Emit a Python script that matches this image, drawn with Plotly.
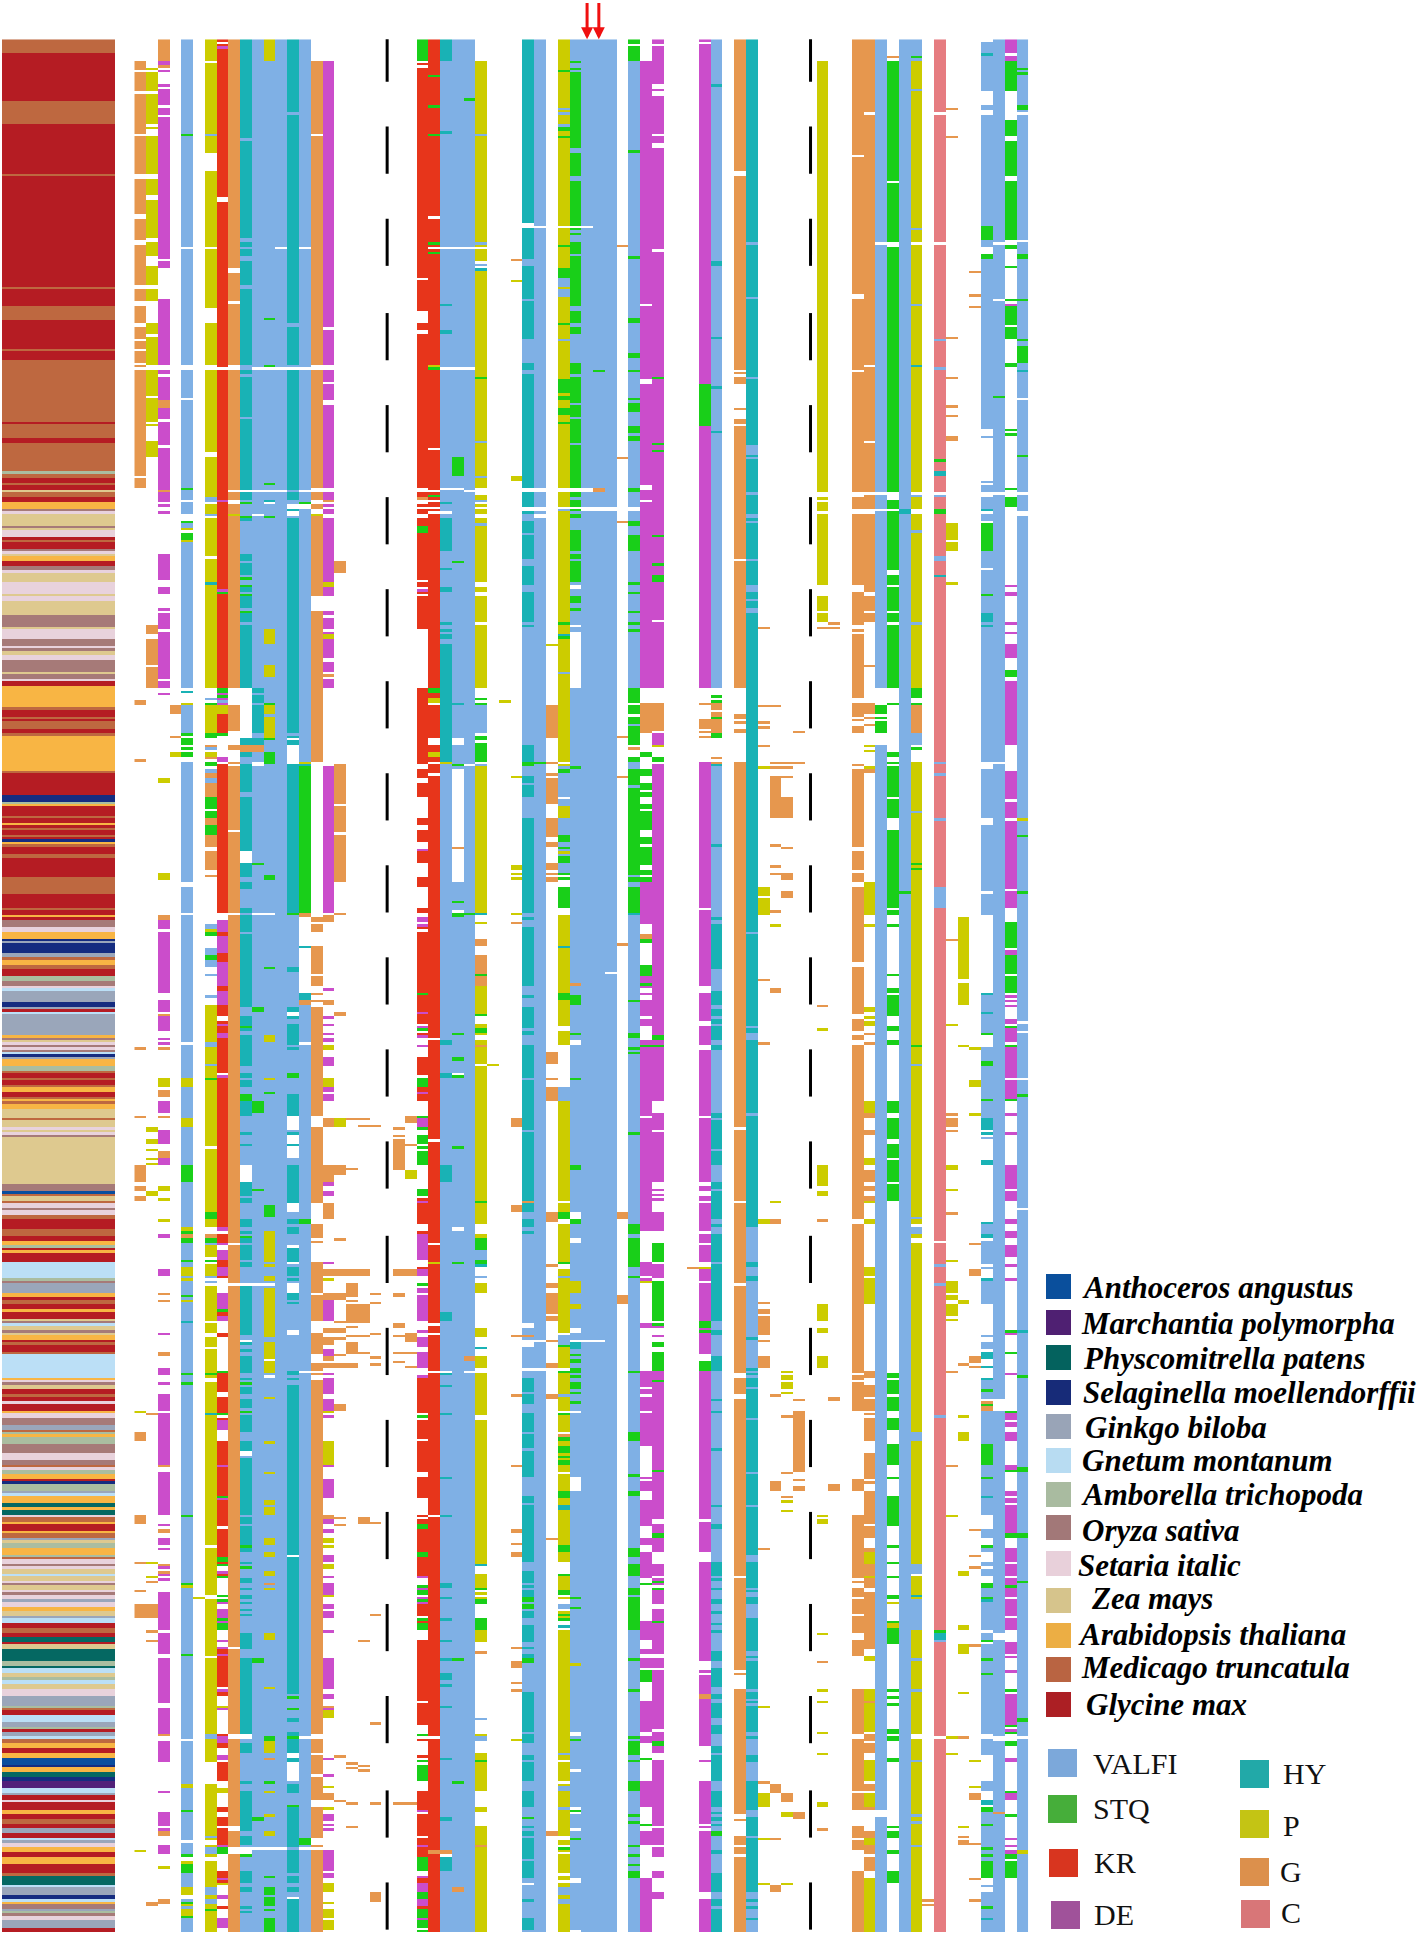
import numpy as np
import plotly.graph_objects as go

FIG_W, FIG_H = 1418, 1935
N_ROWS, N_COLS = 802, 76

# residue classes, in column order of the legend
residue_codes = ["V", "S", "K", "D", "H", "P", "G", "C"]
residue_colors = ["#7FB0E5", "#19CF19", "#E7351B", "#CB4DCB", "#19B2B5", "#CCCC00", "#E6974E", "#E67C80"]

# species strip down the left side: one letter per run, with the row each run ends on
species_colors = {
    "a": "#0A4E9E", "m": "#512079", "p": "#056862", "s": "#152C80", "k": "#9AA6BA", "n": "#BBDFF6", "b": "#AABDA0",
    "o": "#A67A78", "e": "#E8D2DC", "z": "#DEC98F", "t": "#F8B544", "d": "#BE6840", "g": "#B51C23",
}
strip_runs = [
    ("d", 6), ("g", 26), ("d", 36), ("g", 57), ("d", 58), ("g", 105), ("d", 106), ("g", 113), ("d", 119), ("g", 131),
    ("d", 132), ("g", 136), ("d", 162), ("g", 163), ("d", 169), ("g", 171), ("d", 183), ("b", 184), ("d", 186),
    ("g", 188), ("d", 189), ("g", 191), ("z", 192), ("d", 194), ("g", 196), ("t", 199), ("o", 200), ("e", 201),
    ("z", 206), ("o", 207), ("z", 208), ("e", 211), ("g", 212), ("d", 213), ("g", 216), ("o", 217), ("e", 218),
    ("z", 219), ("t", 221), ("g", 223), ("o", 225), ("e", 226), ("z", 230), ("e", 235), ("z", 236), ("e", 238),
    ("z", 244), ("o", 249), ("z", 250), ("e", 254), ("o", 257), ("e", 258), ("o", 259), ("z", 261), ("e", 263),
    ("o", 268), ("z", 269), ("o", 271), ("e", 272), ("g", 274), ("t", 283), ("d", 284), ("g", 287), ("d", 288),
    ("g", 289), ("d", 292), ("g", 294), ("d", 295), ("t", 310), ("d", 311), ("g", 320), ("s", 323), ("b", 324),
    ("t", 325), ("g", 329), ("d", 330), ("g", 332), ("t", 333), ("g", 334), ("d", 335), ("g", 337), ("d", 338),
    ("g", 339), ("s", 340), ("t", 341), ("d", 342), ("g", 345), ("d", 347), ("g", 355), ("d", 362), ("g", 368),
    ("d", 369), ("g", 371), ("t", 372), ("g", 373), ("o", 376), ("e", 378), ("t", 381), ("s", 382), ("k", 383),
    ("s", 387), ("k", 389), ("d", 390), ("t", 392), ("d", 394), ("g", 397), ("b", 399), ("o", 401), ("e", 402),
    ("n", 403), ("k", 408), ("s", 410), ("k", 411), ("g", 412), ("n", 413), ("k", 422), ("t", 423), ("o", 424),
    ("z", 425), ("e", 426), ("o", 427), ("e", 428), ("o", 429), ("n", 430), ("s", 431), ("k", 432), ("t", 435),
    ("b", 437), ("d", 438), ("g", 440), ("d", 441), ("g", 443), ("d", 444), ("t", 446), ("g", 448), ("d", 449),
    ("t", 450), ("d", 451), ("t", 453), ("z", 457), ("d", 458), ("z", 461), ("e", 462), ("z", 463), ("e", 464),
    ("o", 465), ("z", 485), ("o", 488), ("a", 489), ("d", 490), ("z", 492), ("d", 493), ("e", 495), ("o", 496),
    ("e", 498), ("d", 500), ("g", 504), ("d", 507), ("g", 509), ("t", 511), ("b", 512), ("g", 513), ("t", 514),
    ("g", 518), ("n", 525), ("b", 526), ("o", 527), ("k", 531), ("t", 533), ("g", 534), ("d", 536), ("g", 538),
    ("t", 539), ("g", 542), ("z", 543), ("o", 544), ("n", 545), ("z", 547), ("o", 548), ("z", 549), ("t", 551),
    ("g", 552), ("d", 553), ("g", 556), ("d", 557), ("n", 567), ("t", 568), ("e", 569), ("o", 570), ("z", 572),
    ("g", 574), ("d", 575), ("g", 577), ("e", 578), ("g", 581), ("t", 582), ("e", 584), ("o", 587), ("k", 589),
    ("d", 590), ("b", 591), ("t", 592), ("b", 595), ("o", 599), ("e", 602), ("o", 604), ("d", 605), ("e", 606),
    ("b", 608), ("t", 610), ("g", 611), ("s", 612), ("b", 615), ("k", 616), ("n", 617), ("t", 620), ("p", 622),
    ("t", 623), ("p", 625), ("e", 626), ("d", 628), ("t", 629), ("g", 632), ("t", 633), ("d", 635), ("k", 636),
    ("z", 637), ("b", 639), ("t", 642), ("b", 643), ("d", 644), ("e", 646), ("o", 647), ("e", 648), ("z", 650),
    ("n", 651), ("z", 653), ("e", 654), ("o", 655), ("z", 657), ("e", 658), ("o", 659), ("e", 661), ("k", 662),
    ("e", 664), ("t", 666), ("z", 668), ("k", 669), ("n", 671), ("g", 673), ("d", 675), ("g", 677), ("p", 679),
    ("g", 680), ("z", 682), ("p", 687), ("b", 689), ("p", 690), ("n", 692), ("z", 694), ("b", 695), ("n", 697),
    ("z", 699), ("e", 702), ("k", 706), ("b", 707), ("d", 708), ("g", 710), ("n", 713), ("k", 715), ("b", 716),
    ("g", 717), ("k", 719), ("n", 720), ("d", 722), ("t", 724), ("g", 726), ("t", 728), ("a", 731), ("s", 732),
    ("t", 734), ("p", 736), ("s", 738), ("m", 741), ("n", 743), ("k", 744), ("g", 746), ("e", 747), ("g", 750),
    ("t", 752), ("g", 754), ("d", 756), ("g", 758), ("k", 760), ("g", 762), ("n", 763), ("k", 764), ("e", 766),
    ("t", 768), ("g", 770), ("t", 773), ("g", 777), ("d", 778), ("p", 782), ("n", 783), ("k", 786), ("s", 788),
    ("n", 789), ("t", 790), ("o", 792), ("k", 793), ("b", 794), ("o", 795), ("e", 797), ("k", 800), ("g", 802),
]

# alignment columns: a residue code, then start/end row pairs. Later entries paint over earlier ones, "-" is a gap.
col_00 = ["G", 9, 13, 14, 22, 23, 40, 41, 57, 59, 74, 76, 85, 87, 104, 106, 111, 113, 120, 122, 127, 128, 131, 132, 137,
          138, 139, 140, 185, 186, 190, 280, 282, 305, 306, 427, 428, 456, 457, 477, 484, 486, 488, 490, 492, 590, 594,
          625, 629, 645, 646, 657, 658, 663, 669, "P", 581, 582, 767, 768]
col_01 = ["P", 12, 13, 14, 22, 23, 36, 37, 38, 41, 57, 59, 66, 68, 84, 86, 92, 96, 104, 106, 111, 120, 125, 126, 138, 140,
          151, 152, 162, 163, 164, 170, 177, 461, 463, 466, 468, 470, 471, 474, 475, 476, 477, 488, 490, 645, 646, 651,
          652, "G", 248, 252, 254, 265, 266, 275, 582, 583, 653, 654, 663, 669, 674, 675, 678, 679, 789, 791]
col_02 = ["D", 9, 11, 13, 14, 19, 20, 21, 28, 29, 32, 33, 93, 94, 97, 110, 138, 140, 142, 143, 153, 156, 161, 162, 172, 173,
          191, 192, 196, 197, 198, 200, 201, 218, 229, 232, 235, 241, 242, 243, 250, 251, 271, 272, 275, 277, 278, 373,
          377, 378, 404, 407, 412, 414, 420, 423, 424, 425, 426, 450, 455, 462, 468, 474, 477, 506, 508, 521, 524, 548,
          549, 563, 566, 569, 570, 574, 581, 582, 604, 607, 625, 629, 630, 635, 638, 639, 640, 647, 648, 650, 651, 652, 653,
          658, 674, 675, 684, 686, 705, 707, 718, 721, 730, 742, 743, 751, 757, 758, 759, 765, 769,
          "G", 0, 9, 11, 12, 153, 156, 191, 192, 371, 373, 413, 414, 427, 428, 445, 448, 456, 457, 471, 474, 531, 532, 534,
          535, 556, 558, 604, 605, 631, 633, 646, 647, 649, 650, 718, 719, 759, 761, 788, 790,
          "P", 313, 315, 353, 356, 440, 444, 486, 488, 491, 492, 500, 501, 774, 775]
col_03 = ["G", 282, 286, 295, 296, "P", 302, 304]
col_04 = ["V", 0, 88, 89, 138, 140, 152, 153, 195, 196, 201, 204, 208, 209, 275, 282, 294, 306, 357, 359, 370, 371, 425, 426,
          720, 721, 739, 741, 763, 764, 769, 777, 783, 788, 802,
          "S", 40, 41, 190, 191, 204, 205, 209, 212, 294, 295, 296, 299, 300, 301, 302, 304, 505, 506, 508, 510, 517, 518,
          477, 484, 532, 533, 565, 566, 569, 570, 625, 626, 654, 655, 684, 685, 750, 751, 769, 770, 773, 777, 789, 790, 795, 796,
          "P", 207, 208, 212, 213, 281, 282, 440, 444, 457, 461, 503, 505, 520, 524, 525, 526, 534, 535, 655, 656, 739,
          741, 772, 773, 783, 786, 790, 791, 792, 795,
          "H", 276, 277, 543, 544, "G", 506, 508]
col_05 = ["P", 660, 661]
col_06 = ["P", 0, 9, 10, 40, 41, 48, 56, 88, 89, 114, 120, 138, 140, 175, 177, 194, 197, 201, 203, 219, 220, 275, 282, 294,
          302, 304, 409, 425, 427, 434, 435, 469, 470, 497, 500, 503, 511, 516, 519, 525, 528, 543, 544, 548, 550, 554,
          555, 565, 566, 567, 569, 582, 583, 638, 639, 659, 661, 685, 686, 718, 720, 730, 739, 761, 762, 763, 765, 766,
          769, 770, 772, 783, 786, 788, 790, 792, 793, 802, 377, 378,
          "V", 40, 41, 194, 196, 201, 202, 279, 280, 300, 301, 309, 311, 313, 315, 375, 377, 385, 389, 390, 393, 396, 397,
          405, 406, 425, 427, 434, 435, 510, 511, 517, 518, 524, 525, 526, 527, 718, 720, 761, 762, 766, 769, 783, 786, 788, 790,
          "H", 230, 231, 582, 583, "S", 281, 282, 294, 296, 306, 308, 321, 326, 327, 330, 333, 335, 335, 337, 378, 380, 388, 390,
          440, 441, 497, 500, 508, 510, 517, 518, 565, 566, 792, 793,
          "G", 299, 300, 304, 305, 311, 313, 315, 321, 330, 333, 337, 342, 344, 352, 354, 355, 506, 508]
col_07 = ["K", 0, 1, 2, 3, 4, 67, 69, 139, 140, 233, 235, 275, 286, 294, 307, 370, 378, 380, 387, 391, 390, 391, 401, 403, 409,
          414, 416, 438, 440, 503, 506, 510, 517, 520, 524, 525, 531, 543, 548, 550, 564, 573, 575, 582, 584, 585, 594, 630,
          631, 643, 645, 646, 650, 651, 682, 684, 685, 698, 700, 702, 718, 719, 722, 724, 727, 728, 730, 738, 749, 751, 753, 757,
          758, 765, 776, 779, 780, 781, 791, 792,
          "D", 3, 4, 195, 196, 233, 234, 277, 278, 279, 280, 281, 282, 304, 306, 373, 378, 380, 387, 391, 401, 403, 409, 417, 418,
          421, 423, 439, 440, 503, 505, 510, 511, 513, 517, 520, 524, 531, 538, 541, 543, 585, 589, 604, 605, 618, 619, 649, 650,
          662, 663, 665, 669, 670, 671, 678, 679, 681, 682, 684, 685, 699, 700, 707, 708, 719, 722, 727, 729, 765, 766, 779, 780,
          786, 788, 796, 800,
          "S", 234, 235, 275, 277, 278, 279, 294, 295, 538, 539, 564, 565, 582, 583, 617, 618, 643, 645, 646, 647, 651, 652, 659, 660,
          661, 662, 669, 670, 671, 674, 766, 769,
          "P", 282, 286, 741, 743, 781, 782, 706, 707, "V", 280, 281]
col_08 = ["G", 0, 97, 99, 111, 112, 138, 140, 191, 192, 195, 197, 201, 202, 275, 282, 293, 299, 301, 306, 307, 308, 335, 336,
          370, 371, 510, 511, 527, 528, 681, 682, 718, 720, 757, 759, 766, 769, 802, "P", 201, 202]
col_09 = ["V", 0, 191, 192, 275, 299, 527, 528, 594, 600, 718, 720, 766, 770, 802, "-", 344, 349, 477, 484, 551, 552, 718, 720,
          "H", 0, 42, 43, 84, 86, 88, 89, 92, 94, 104, 106, 138, 140, 142, 143, 160, 161, 191, 192, 195, 202, 204, 218, 221, 222, 227,
          232, 234, 235, 241, 242, 247, 248, 275, 296, 299, 302, 304, 307, 319, 321, 344, 349, 355, 357, 360, 368, 370, 371, 378,
          379, 410, 414, 418, 419, 420, 422, 435, 438, 440, 441, 444, 450, 456, 463, 464, 468, 469, 484, 490, 491, 493, 500, 503,
          505, 506, 508, 510, 511, 517, 518, 520, 528, 549, 552, 553, 555, 556, 558, 565, 567, 568, 571, 574, 576, 580, 583, 590,
          594, 598, 601, 625, 626, 629, 630, 638, 639, 641, 645, 646, 652, 654, 656, 657, 659, 661, 662, 663, 665, 666, 667, 668,
          673, 673, 675, 682, 686, 718, 722, 726, 738, 739, 742, 759, 761, 765, 776, 781, 783, 785, 791, 792, 793, 794,
          "S", 196, 197, 202, 203, 228, 229, 231, 232, 235, 236, 242, 243, 447, 450, 418, 419, 507, 508, 581, 582, 569, 570, 638,
          639, 647, 648, 769, 770, "G", 299, 302, "-", 344, 349, 477, 484]
col_10 = ["V", 0, 139, 140, 191, 192, 201, 202, 306, 308, 370, 371, 527, 528, 766, 767, 802,
          "H", 275, 277, 278, 281, 282, 294, 296, 299, "G", 299, 302, "S", 349, 350, 410, 412, 450, 455, 487, 488, 686, 688, 753, 755]
col_11 = ["V", 0, 139, 140, 191, 192, 196, 197, 294, 296, 302, 307, 370, 371, 527, 528, 766, 767, 802,
          "P", 0, 9, 250, 256, 265, 270, 282, 286, 287, 296, 422, 425, 440, 441, 505, 518, 519, 520, 524, 526, 529, 550, 552,
          565, 575, 576, 594, 595, 607, 608, 619, 621, 622, 625, 635, 638, 641, 643, 649, 651, 656, 657, 675, 678, 698, 699, 721,
          726, 742, 743, 752, 753, 759, 761,
          "S", 118, 119, 138, 139, 188, 189, 202, 203, 281, 282, 296, 297, 302, 307, 354, 356, 393, 394, 393, 394, 446, 447, 494, 499,
          719, 721, 738, 739, 778, 779, 783, 786, 787, 791, 792, 793, 796, 802,
          "H", 195, 196, "G", 654, 655, 728, 729, "-", 559, 560, 566, 567]
col_12 = ["V", 0, 88, 89, 139, 140, 802, "-", 191, 192, 766, 767]
col_13 = ["V", 0, 88, 89, 139, 140, 198, 202, 802, "-", 197, 199, 200, 202, 296, 297, 299, 307, 412, 414, 456, 462, 464,
          468, 469, 474, 493, 497, 511, 512, 518, 519, 527, 528, 528, 531, 535, 536, 547, 549, 564, 565, 642, 643, 726, 728, 730, 738,
          787, 788,
          "H", 0, 31, 32, 120, 122, 138, 140, 191, 192, 195, 199, 200, 203, 294, 295, 296, 297, 299, 307, 370, 393, 395, 410, 412,
          414, 415, 417, 426, 427, 428, 447, 456, 463, 464, 468, 469, 477, 493, 500, 502, 503, 506, 512, 518, 520, 524, 525, 526,
          531, 534, 535, 536, 564, 566, 567, 568, 570, 642, 643, 701, 711, 713, 717, 726, 728, 730, 739, 743, 749, 766, 767, 777,
          778, 781, 783, 785, 788, 802,
          "S", 370, 371, 438, 440, 702, 703, 707, 708, 719, 720, 748, 749]
col_14 = ["V", 0, 88, 89, 139, 140, 191, 192, 197, 199, 306, 404, 425, 426, 564, 565, 719, 720, 766, 767, 802,
          "S", 196, 197, 307, 370, 500, 502, 762, 765, "H", 307, 308, 384, 385, 404, 407, "P", 306, 307, "G", 370, 372, 407, 409]
col_15 = ["G", 9, 40, 41, 138, 140, 190, 192, 195, 197, 199, 202, 236, 242, 306, 372, 374, 375, 378, 384, 396, 397, 401, 404, 405,
          407, 408, 410, 456, 461, 493, 502, 508, 509, 510, 518, 531, 532, 543, 548, 557, 561, 564, 565, 566, 568, 718, 720, 726, 727,
          735, 736, 746, 749, 762, 765, 766, 767, 802, "P", 201, 202]
col_16 = ["D", 9, 122, 123, 138, 140, 145, 146, 153, 155, 190, 192, 195, 197, 198, 199, 201, 203, 230, 232, 236, 242, 244, 245, 250,
          251, 252, 254, 262, 264, 268, 271, 275, 308, 370, 402, 403, 414, 415, 417, 418, 421, 422, 423, 425, 426, 427, 431, 435,
          444, 446, 447, 450, 484, 486, 488, 490, 518, 519, 534, 543, 555, 558, 565, 566, 567, 574, 576, 581, 583, 584, 604, 605,
          610, 618, 627, 629, 631, 633, 642, 645, 651, 652, 654, 659, 663, 665, 666, 669, 674, 675, 686, 699, 701, 703, 707, 708,
          728, 729, 735, 736, 743, 746, 752, 755, 756, 757, 758, 759, 767, 776, 777, 779,
          "G", 195, 196, 269, 270, 371, 374, 407, 409, 457, 461, 477, 484, 493, 500, 521, 524, 531, 534, 546, 548, 550, 553, 558,
          560, 561, 563, 625, 627, 706, 707, 743, 746,
          "P", 230, 232, 252, 254, 426, 428, 440, 444, 525, 526, 581, 582, 594, 604, 635, 637, 638, 639, 646, 648, 659, 660, 708, 711,
          740, 741, 749, 750, 781, 785, 789, 790, 792, 796, 797, 801]
col_17 = ["G", 221, 226, 307, 324, 325, 336, 337, 357, 370, 371, 412, 414, 477, 481, 508, 509, 521, 524, 531, 534, 543, 544, 546, 548,
          550, 551, 557, 558, 561, 563, 578, 581, 626, 627, 629, 630, 727, 728, 746, 747, "P", 457, 461]
col_18 = ["G", 457, 458, 478, 479, 521, 524, 527, 533, 534, 535, 536, 544, 545, 546, 549, 550, 552, 557, 561, 563, 730, 731, 732, 733,
          747, 748, 757, 758]
col_19 = ["G", 457, 458, 460, 461, 521, 524, 536, 544, 549, 550, 556, 557, 626, 629, 678, 679, 731, 732, 733, 734]
col_20 = ["G", 460, 461, 531, 532, 535, 536, 548, 549, 558, 559, 561, 562, 628, 629, 667, 668, 713, 714, 747, 748, 785, 789]
col_22 = ["G", 461, 462, 464, 465, 466, 479, 521, 524, 531, 533, 544, 545, 545, 546, 549, 550, 556, 557, 560, 561, 747, 748]
col_23 = ["G", 456, 459, 468, 469, 521, 524, 548, 550, 550, 552, 556, 557, 562, 563, 747, 748, "P", 479, 483]
col_24 = ["K", 10, 11, 12, 101, 102, 115, 120, 123, 125, 190, 192, 194, 197, 198, 199, 201, 203, 229, 230, 232, 233, 235, 236, 250, 275,
          307, 309, 313, 315, 321, 330, 333, 335, 340, 343, 349, 355, 359, 368, 370, 375, 377, 378, 404, 405, 417, 421, 423, 431, 439,
          444, 446, 447, 450, 491, 502, 505, 506, 520, 524, 567, 582, 585, 593, 594, 607, 609, 618, 625, 626, 627, 629, 631, 651, 663,
          668, 669, 674, 678, 704, 705, 714, 720, 721, 727, 728, 742, 750, 752, 761, 762, 776, 778, 800, 801, 378, 404,
          "S", 0, 9, 206, 209, 404, 405, 418, 420, 440, 444, 456, 457, 461, 462, 464, 468, 469, 470, 471, 477, 487, 490,
          527, 528, 583, 584, 629, 631, 641, 643, 655, 656, 657, 659, 661, 663, 669, 670, 671, 674, 718, 719, 729,
          730, 731, 738, 770, 776, 785, 788, 792, 796, 797, 800, 801, 802,
          "D", 233, 234, 343, 344, 372, 374, 375, 376, 412, 413, 418, 419, 422, 423, 426, 427,
          446, 447, 457, 461, 492, 493, 506, 517, 521, 524, 529, 531, 532, 543, 547, 548, 550, 554, 556, 563, 566, 567,
          651, 652, 656, 657, 660, 661, 662, 663, 750, 751, 765, 766, 778, 779, 781, 785, 788, 791, 796, 797,
          "G", 194, 195]
col_25 = ["K", 0, 802, "S", 15, 16, 28, 29, 40, 41, 86, 87, 90, 91, 139, 140, 193, 194, 275, 277, "P", 138, 139, 279, 281, 302, 304, 518, 519,
          "-", 75, 76, 88, 89, 173, 174, 191, 192, 195, 196, 198, 199, 200, 201, 281, 282, 296, 299, 306, 307, 311, 312, 423, 424, 466, 467,
          510, 511, 544, 545, 548, 549, 564, 565, 625, 626, 719, 720, "G", 767, 769]
col_26 = ["V", 0, 88, 89, 139, 140, 190, 191, 769, 770, 802, "-", 200, 201, 564, 565,
          "H", 0, 9, 39, 40, 112, 113, 123, 125, 196, 197, 203, 217, 224, 225, 232, 234, 247, 248, 250, 251, 252, 254, 256, 306, 424, 426, 438,
          440, 477, 484, 539, 543, 565, 566, 570, 571, 582, 583, 609, 610, 625, 626, 654, 656, 660, 661, 669, 670, 678, 679, 686, 687, 692, 695,
          697, 698, 706, 707, 728, 729, 753, 755, 770, 776, "P", 306, 307, "G", 767, 769]
col_27 = ["V", 0, 88, 89, 139, 140, 190, 191, 802, "-", 296, 299, 309, 342, 343, 357, 369, 370, 438, 439, 503, 505,
          "S", 177, 185, 221, 222, 307, 308, 365, 366, 370, 372, 421, 422, 431, 433, 439, 440, 469, 470, 518, 519, 686, 687, 738, 739,
          "H", 281, 282, "G", 342, 343, 783, 785]
col_28 = ["V", 0, 88, 89, 139, 140, 191, 192, 307, 308, 802, "S", 25, 26, 370, 371, "G", 558, 560, "-", 564, 565]
col_29 = ["P", 9, 40, 41, 86, 87, 88, 89, 94, 95, 96, 98, 143, 144, 170, 171, 185, 186, 190, 193, 195, 197, 198, 199, 201, 203, 230,
          232, 234, 236, 247, 248, 275, 308, 370, 374, 375, 401, 414, 417, 419, 421, 422, 424, 426, 427, 434, 435, 492, 493, 502, 506, 508, 527, 531,
          546, 550, 558, 563, 565, 583, 585, 646, 650, 656, 658, 659, 660, 661, 674, 679, 718, 719, 726, 729, 730, 742, 749, 751, 757, 802,
          "V", 40, 41, 86, 87, 95, 96, 170, 171, 185, 186, 195, 196, 205, 206, 282, 294, 307, 308, 513, 517, 524, 525, 711, 712, 719, 721,
          "H", 97, 98, 370, 371, 519, 520, 554, 555, 646, 647, "S", 143, 144, 279, 280, 281, 282, 295, 297, 298, 306, 396, 397, 413, 414, 419, 421,
          426, 427, 492, 493, 508, 513, 517, 519, 656, 657, 661, 663, 669, 674, 729, 730,
          "G", 381, 384, 388, 396, 397, 401, 426, 427, 683, 684, 765, 766]
col_30 = ["P", 434, 435]
col_31 = ["P", 280, 281]
col_32 = ["G", 93, 94, 457, 461, 494, 497, 549, 550, 574, 575, 604, 605, 631, 633, 637, 638, 641, 643, 681, 682, 687, 690, 696, 697, 699, 700, 374, 375,
          "P", 102, 103, 185, 187, 312, 313, 350, 352, 353, 354, 355, 356, 370, 371, 720, 721]
col_33 = ["V", 0, 79, 80, 190, 192, 198, 200, 551, 554, 563, 564, 781, 782, 802,
          "H", 0, 79, 80, 93, 96, 110, 111, 127, 137, 140, 142, 190, 192, 198, 200, 201, 204, 209, 210, 220, 223, 231, 234, 247, 248, 249, 299, 306,
          312, 315, 316, 321, 330, 370, 372, 373, 376, 401, 405, 406, 410, 419, 420, 422, 426, 440, 441, 462, 463, 492, 493, 497, 500, 503, 505, 506,
          567, 573, 574, 578, 582, 590, 591, 597, 598, 609, 617, 620, 621, 645, 649, 654, 655, 656, 657, 660, 666, 669, 672, 679, 681, 682, 684, 686,
          700, 717, 718, 722, 727, 729, 730, 738, 742, 749, 757, 758, 759, 761, 762, 771, 772, 779, 788, 789, 796, 801,
          "S", 306, 308, 660, 662, 663, 665, 686, 688, 753, 754, "G", 492, 493, 549, 550, "-", 78, 79, 544, 546]
col_34 = ["V", 0, 79, 80, 190, 192, 198, 200, 201, 203, 551, 552, 563, 564, 802, "S", 306, 307]
col_35 = ["G", 282, 296, 306, 307, 311, 312, 313, 324, 330, 338, 340, 342, 349, 352, 353, 354, 355, 357, 429, 434, 440, 441, 444, 450, 497, 501, 519, 520,
          527, 529, 531, 540, 541, 543, 551, 552, 561, 563, 574, 576, 635, 636, 759, 761, "P", 256, 257]
col_36 = ["P", 0, 79, 80, 190, 192, 198, 200, 247, 248, 306, 307, 308, 325, 330, 336, 337, 344, 345, 350, 351, 371, 404, 407, 418, 420, 426, 450, 492, 493, 500,
          502, 518, 521, 524, 525, 548, 554, 563, 565, 574, 575, 581, 583, 590, 594, 596, 599, 600, 601, 602, 604, 607, 608, 615, 618, 621, 623, 638, 641, 645,
          651, 657, 660, 661, 666, 667, 668, 669, 674, 726, 727, 729, 730, 738, 739, 740, 742, 749, 750, 761, 763, 765, 767, 768, 769, 777, 778, 780, 781, 785, 786, 802,
          "V", 29, 30, 31, 32, 36, 37, 101, 105, 106, 109, 127, 128, 199, 200, 268, 269, 308, 309, 311, 321, 322, 325, 330, 344, 345, 354, 444, 450,
          524, 525, 549, 554, 574, 575, 663, 665, 726, 727, 740, 742, 749, 750, 783, 786, 788, 790,
          "S", 13, 14, 37, 39, 41, 42, 87, 88, 97, 101, 120, 121, 144, 150, 151, 153, 156, 159, 162, 163, 247, 248, 253, 254, 309, 311, 337, 340, 342, 343, 346, 349,
          353, 354, 355, 356, 359, 368, 404, 407, 440, 441, 497, 500, 518, 519, 553, 554, 564, 565, 582, 583, 592, 594, 596, 599, 600, 601, 602, 604, 615, 618, 638,
          641, 650, 651, 657, 659, 667, 668, 669, 670, 766, 767,
          "H", 252, 253, 384, 385, 621, 623, 672, 673, "G", 591, 592,
          "-", 427, 444, 357, 359, 368, 371, 321, 322, 661, 663]
col_37 = ["V", 0, 79, 80, 190, 192, 198, 200, 802, "-", 231, 233, 248, 249, 251, 275, 424, 426, 497, 500, 508, 510, 546, 548, 551, 552,
          581, 582, 609, 615, 717, 719, 733, 734, 749, 750, 751, 752, 758, 759, 779, 781, 801, 802,
          "S", 9, 10, 12, 13, 14, 46, 48, 58, 60, 79, 80, 81, 82, 83, 86, 91, 92, 113, 115, 120, 122, 125, 137, 142, 143, 154, 155, 160, 161, 171, 172, 190, 192, 194,
          195, 198, 199, 200, 201, 203, 208, 217, 218, 220, 221, 230, 236, 239, 241, 242, 308, 309, 405, 409, 421, 422, 440, 441, 477, 479, 500, 502, 557, 558, 559, 561,
          563, 565, 566, 567, 569, 572, 573, 574, 577, 578, 660, 661, 664, 665, 720, 721, 750, 751, 762, 763,
          "H", 552, 555, "P", 526, 531, 536, 538, 688, 689, "G", 400, 401]
col_38 = ["V", 0, 79, 80, 190, 192, 198, 200, 551, 552, 802]
col_39 = ["V", 0, 198, 200, 551, 552, 802, "S", 140, 141, "G", 190, 192]
col_40 = ["V", 0, 198, 200, 395, 396, 802]
col_41 = ["G", 87, 88, 177, 178, 204, 205, 295, 296, 312, 313, 383, 384, 497, 500, 532, 536]
col_42 = ["V", 9, 190, 192, 198, 200, 275, 306, 802,
          "S", 0, 2, 3, 9, 47, 48, 92, 93, 118, 120, 133, 135, 140, 141, 152, 153, 154, 158, 164, 167, 168, 170, 190, 192, 204, 206, 210, 217, 230, 231, 234, 235, 242, 243,
          247, 248, 250, 251, 275, 281, 282, 286, 287, 290, 291, 299, 304, 306, 309, 316, 317, 354, 355, 357, 359, 370, 407, 408, 421, 423, 427, 428, 429, 430, 463, 464, 502,
          506, 508, 520, 524, 525, 564, 565, 590, 594, 608, 609, 615, 617, 639, 643, 646, 651, 656, 659, 660, 674, 686, 687, 699, 700, 719, 720, 721, 727, 729, 730, 738, 742,
          752, 753, 755, 756, 765, 766, 769, 770, 773, 774, 776, 779,
          "V", 290, 291, "G", 300, 301, "H", 370, 371]
col_43 = ["D", 9, 112, 113, 144, 146, 189, 191, 195, 196, 275, 357, 375, 397, 402, 404, 405, 407, 414, 415, 418, 424, 456, 457, 505, 518, 524, 525, 527, 544, 546,
          564, 571, 572, 574, 575, 581, 582, 596, 609, 610, 611, 615, 619, 630, 635, 638, 641, 652, 670, 678, 682, 684, 686, 690, 704, 717, 719, 722, 738, 749, 759, 765, 779, 802,
          "G", 281, 294, 379, 381, "S", 302, 304, 309, 312, 315, 318, 319, 321, 324, 326, 327, 335, 338, 341, 342, 350, 352, 354, 355, 357, 381, 383, 392, 397, 400, 401, 426, 427, 654,
          655, 691, 696, 728, 729, 756, 757, "P", 526, 527]
col_44 = ["D", 0, 2, 3, 19, 21, 22, 24, 40, 41, 44, 46, 89, 90, 246, 247, 275, 294, 299, 307, 450, 455, 462, 463, 484, 487, 488, 489, 490, 491, 492, 497, 505, 519, 525, 544,
          546, 549, 550, 564, 627, 629, 641, 646, 651, 652, 655, 656, 663, 665, 684, 686, 690, 691, 716, 717, 721, 723, 726, 729, 757, 758, 765, 766, 770, 776, 779, 785, 788,
          "S", 143, 144, 171, 172, 174, 175, 210, 211, 222, 223, 227, 230, 304, 306, 422, 424, 426, 427, 510, 518, 526, 543, 544, 545, 552, 554, 556, 564, 568, 569, 606,
          607, 633, 635, 653, 654, 656, 657, 670, 671, 721, 723,
          "G", 281, 293, "P", 299, 300]
col_47 = ["G", 520, 521]
col_48 = ["D", 0, 1, 2, 275, 306, 368, 369, 401, 404, 416, 418, 426, 428, 456, 457, 484, 486, 488, 490, 492, 493, 505, 506, 510, 511, 518, 521, 526, 527, 557, 564, 627, 628, 641,
          645, 687, 691, 692, 693, 723, 729, 730, 738, 756, 757, 758, 759, 785, 788, 802,
          "S", 146, 164, 543, 546, 547, 548, 560, 564, "G", 281, 282, 288, 292, 293, 294, 295, 296, 701, 703, "P", 520, 521]
col_49 = ["V", 0, 275, 306, 802, "S", 278, 279, 280, 281, 287, 288, 294, 296, 759, 761,
          "G", 281, 284, 285, 287, 288, 294, 304, 305, 306, 307,
          "H", 19, 20, 94, 96, 126, 127, 147, 148, 166, 167, 307, 308, 341, 342, 372, 373, 375, 394, 403, 409, 411, 414, 415, 417, 418, 424, 426, 428, 455, 457, 458, 470, 471, 477, 484,
          487, 488, 500, 502, 503, 506, 518, 519, 543, 547, 549, 558, 564, 576, 577, 581, 582, 597, 598, 621, 622, 629, 631, 645, 651, 652, 653, 656, 657, 661, 663, 666, 667, 671,
          672, 674, 675, 683, 687, 690, 698, 701, 703, 705, 711, 714, 718, 723, 726, 727, 738, 742, 749, 751, 752, 753, 755, 756, 757, 767, 769, 777, 785, 788, 791, 792, 802]
col_51 = ["G", 0, 56, 58, 140, 141, 142, 143, 146, 156, 157, 161, 163, 164, 220, 221, 275, 286, 288, 289, 290, 292, 294, 306, 461, 462, 492, 493, 527, 528, 565, 567, 574, 576, 651,
          652, 691, 692, 693, 699, 752, 754, 755, 761, 765, 766, 769, 770, 802]
col_52 = ["V", 0, 275, 306, 753, 757, 802, "S", 277, 278, 308, 309, 567, 568, 618, 619, 763, 766, "G", 282, 286,
          "H", 0, 86, 87, 109, 110, 143, 144, 172, 176, 177, 178, 192, 193, 201, 203, 204, 205, 220, 221, 231, 234, 237, 238, 241, 243, 378, 379, 418, 419, 421, 424, 455, 456, 503, 518,
          520, 524, 526, 550, 551, 563, 564, 565, 566, 567, 571, 572, 584, 585, 607, 608, 621, 622, 642, 645, 656, 657, 658, 660, 663, 669, 683, 685, 686, 687, 699, 700, 703, 704, 705,
          706, 717, 719, 720, 727, 730, 738, 750, 753, 761, 762, 785, 788, 789, 791, 792, 796, 797, 800]
col_53 = ["G", 249, 250, 282, 283, 289, 290, 291, 292, 299, 300, 398, 399, 425, 426, 535, 536, 538, 540, 541, 549, 551, 552, 558, 563, 639, 640, 738, 739,
          "P", 308, 309, 359, 363, 364, 371, 500, 502, 706, 707, 743, 749, 762, 763, 781, 782]
col_54 = ["G", 282, 283, 306, 307, 308, 309, 312, 330, 341, 342, 350, 351, 353, 354, 369, 370, 402, 404, 500, 502, 574, 575, 611, 615, 739, 743, 762, 763, 782, 785,
          "P", 375, 376, 492, 493]
col_55 = ["G", 306, 307, 308, 309, 312, 313, 321, 330, 342, 343, 353, 356, 361, 364, 583, 584, 607, 608, 617, 618, 743, 747,
          "P", 564, 565, 566, 568, 569, 572, 573, 574, 619, 620, 623, 624, 751, 753, 781, 782]
col_56 = ["G", 293, 294, 306, 307, 576, 577, 581, 607, 610, 611, 613, 615, 751, 754]
col_58 = ["P", 9, 192, 194, 195, 196, 200, 201, 231, 236, 242, 243, 247, 419, 420, 477, 486, 488, 490, 536, 543, 546, 548, 558, 563, 625, 626, 627, 629, 675, 676, 699, 700, 704, 705, 717,
          718, 726, 727, 747, 749, "G", 249, 250, 409, 410, 500, 501, 687, 688, 758, 759]
col_59 = ["G", 247, 248, 249, 250, 575, 577, 612, 615]
col_61 = ["G", 0, 49, 50, 108, 110, 140, 141, 192, 194, 199, 201, 231, 234, 248, 250, 251, 252, 279, 281, 287, 288, 289, 291, 294, 307, 308, 309, 342, 344, 352, 353, 357, 359, 391, 393, 413,
          415, 420, 422, 424, 426, 500, 502, 565, 566, 568, 569, 581, 610, 615, 625, 652, 653, 654, 656, 660, 661, 667, 668, 675, 678, 685, 699, 718, 720, 742, 743, 750, 757, 762, 763, 767, 776, 802]
col_62 = ["G", 0, 31, 32, 138, 139, 170, 171, 192, 193, 199, 201, 234, 236, 242, 243, 247, 265, 266, 281, 286, 287, 288, 290, 291, 309, 311, 421, 422, 425, 426, 455, 457, 462, 464, 479, 484, 486, 488,
          490, 492, 564, 567, 570, 575, 576, 581, 582, 583, 584, 594, 599, 610, 611, 612, 615, 629, 630, 635, 639, 641, 646, 651, 652, 656, 658, 682, 704, 705, 718, 721, 722, 726, 739, 742, 743, 750,
          759, 762, 765, 769, 770, 776,
          "P", 299, 300, 301, 302, 308, 309, 357, 371, 375, 376, 410, 412, 414, 415, 416, 418, 450, 455, 474, 477, 492, 493, 500, 502, 520, 524, 525, 536, 641, 646, 651, 652, 685, 687, 699, 704, 705,
          717, 729, 738, 743, 749, 762, 765, 779, 802]
col_63 = ["V", 0, 86, 87, 192, 193, 199, 200, 275, 299, 750, 753, 802, "S", 282, 286, 287, 288, 289, 294]
col_64 = ["S", 9, 60, 61, 86, 88, 192, 195, 199, 200, 225, 227, 231, 232, 242, 243, 247, 248, 250, 250, 275, 281, 282, 302, 304, 306, 307, 308, 321, 322, 330, 335, 368, 369, 371, 375, 376, 396, 397,
          402, 404, 405, 414, 418, 420, 424, 426, 450, 455, 457, 466, 468, 474, 475, 484, 485, 492, 565, 567, 568, 574, 575, 581, 584, 589, 595, 604, 609, 610, 617, 630, 638, 639, 645, 646, 651, 652,
          659, 661, 670, 671, 673, 680, 699, 700, 702, 703, 705, 706, 716, 718, 719, 721, 728, 730, 757, 758, 759, 762, 767, 769, 776, 781, "G", 7, 8, "P", 662, 663, 671, 673]
col_65 = ["V", 0, 802, "H", 199, 201, "S", 361, 362]
col_66 = ["P", 9, 86, 87, 192, 194, 199, 201, 275, 306, 590, 594, 646, 651, 802, "V", 0, 7, 8, 9, 21, 22, 80, 81, 112, 113, 193, 194, 208, 209, 247, 248, 294, 299, 327, 328,
          434, 435, 499, 500, 503, 506, 509, 510, 590, 594, 646, 650, 661, 674, 686, 687, 699, 700, 729, 730, 752, 753, 755, 756, 765, 766,
          "S", 7, 8, 275, 279, 281, 282, 300, 301, 349, 350, 351, 352, 426, 427, "H", 138, 139, 659, 660, "G", 282, 294, "-", 86, 87, 279, 281, 299, 300, 301, 306, 502, 503,
          508, 510, 650, 651, 718, 720]
col_67 = ["G", 788, 789, 790, 791]
col_68 = ["C", 0, 31, 32, 86, 87, 192, 194, 306, 307, 802, "V", 127, 128, 139, 140, 193, 194, 219, 221, 306, 307, 311, 312, 330, 331, 359, 368, 519, 520, 527, 528, 583, 584, 678, 679,
          "S", 178, 179, 199, 201, 674, 675, "H", 183, 185, 227, 228, 675, 678, "-", 509, 510, 719, 720]
col_69 = ["G", 29, 30, 41, 42, 126, 127, 143, 144, 155, 156, 159, 160, 168, 170, 381, 382, 455, 456, 457, 461, 462, 463, 497, 498, 564, 565, 604, 605,
          "P", 205, 212, 213, 217, 230, 231, 417, 418, 477, 479, 487, 488, 517, 518, 526, 531, 532, 534, 536, 541, 542, 543, 625, 626, 719, 720, 726, 727]
col_70 = ["P", 372, 398, 400, 409, 426, 427, 534, 536, 583, 584, 590, 594, 649, 651, 672, 674, 680, 684, 700, 701, 757, 758, "G", 561, 562, 719, 720, 761, 762, 763, 765]
col_71 = ["G", 98, 99, 108, 109, 113, 114, 510, 511, 521, 524, 558, 561, 562, 563, 631, 632, 642, 643, 647, 648, 680, 681, 743, 746, 764, 765, 779, 780, 788, 789,
          "P", 427, 428, 441, 444, 455, 456, 729, 730, 740, 741]
col_72 = ["V", 1, 22, 28, 30, 32, 88, 93, 165, 168, 169, 187, 188, 189, 192, 194, 199, 201, 204, 205, 224, 225, 306, 309, 330, 333, 361, 362, 371, 404, 421, 427, 457, 465, 466, 502, 506, 509, 519,
          520, 521, 525, 536, 549, 550, 552, 555, 567, 576, 581, 595, 604, 625, 631, 635, 638, 641, 645, 647, 648, 651, 656, 674, 675, 678, 680, 718, 720, 727, 738, 742, 751, 766, 767, 769, 770, 772, 782, 783, 785, 802,
          "S", 79, 85, 91, 93, 205, 217, 235, 236, 421, 422, 433, 435, 449, 450, 572, 573, 578, 579, 595, 604, 609, 610, 638, 639, 654, 656, 660, 662, 678, 679, 686, 687, 692, 693, 749, 751, 756, 757,
          766, 767, 769, 770, 772, 779, 791, 792,
          "H", 6, 7, 199, 200, 243, 247, 248, 249, 404, 405, 412, 413, 457, 462, 463, 464, 475, 477, 501, 502, 506, 508, 525, 526, 556, 559, 562, 563, 567, 568, 617, 618, 661, 662, 746, 748, 796, 797,
          "G", 577, 578, 579, 581]
col_73 = ["V", 0, 86, 87, 110, 111, 192, 193, 306, 307, 576, 581, 675, 678, 719, 721, 802, "S", 151, 152, "G", 751, 752]
col_74 = ["D", 0, 6, 7, 9, 112, 113, 231, 232, 234, 236, 247, 248, 251, 252, 256, 262, 272, 299, 310, 322, 323, 330, 331, 360, 361, 368, 386, 388, 405, 406, 407, 408, 409, 410, 415, 417,
          419, 425, 427, 440, 441, 449, 455, 456, 463, 464, 477, 487, 488, 492, 500, 502, 505, 508, 511, 516, 519, 520, 525, 526, 548, 549, 565, 566, 582, 585, 586, 588, 590, 594, 604, 606, 615, 617,
          618, 620, 621, 633, 639, 645, 646, 651, 652, 655, 656, 660, 661, 668, 669, 674, 679, 684, 685, 686, 691, 692, 701, 714, 716, 717, 721, 723, 728, 730, 743, 746, 762, 763, 765, 766, 767, 769,
          "S", 9, 22, 34, 41, 43, 58, 60, 85, 87, 89, 96, 97, 110, 111, 113, 121, 122, 127, 137, 139, 165, 166, 167, 168, 190, 191, 194, 198, 267, 270, 374, 385, 388, 396, 397, 404, 418, 419, 426, 427,
          449, 450, 547, 548, 556, 557, 581, 582, 606, 607, 633, 635, 655, 656, 699, 700, 714, 715, 717, 718, 721, 723, 742, 743, 752, 753, 769, 771, 772, 779]
col_75 = ["V", 0, 31, 32, 85, 86, 152, 153, 192, 193, 200, 202, 416, 417, 420, 421, 440, 441, 495, 496, 719, 720, 802,
          "S", 12, 13, 14, 15, 28, 30, 91, 93, 110, 111, 127, 128, 130, 137, 176, 177, 337, 338, 361, 362, 447, 448, 566, 567, 605, 607, 633, 635, 653, 654, 711, 713,
          "H", 140, 141, 547, 548, "P", 330, 331, 767, 769]

columns = {
    0: col_00, 1: col_01, 2: col_02, 3: col_03, 4: col_04, 5: col_05, 6: col_06, 7: col_07, 8: col_08, 9: col_09,
    10: col_10, 11: col_11, 12: col_12, 13: col_13, 14: col_14, 15: col_15, 16: col_16, 17: col_17, 18: col_18,
    19: col_19, 20: col_20, 22: col_22, 23: col_23, 24: col_24, 25: col_25, 26: col_26, 27: col_27,
    28: col_28, 29: col_29, 30: col_30, 31: col_31, 32: col_32, 33: col_33, 34: col_34, 35: col_35, 36: col_36,
    37: col_37, 38: col_38, 39: col_39, 40: col_40, 41: col_41, 42: col_42, 43: col_43, 44: col_44, 47: col_47,
    48: col_48, 49: col_49, 51: col_51, 52: col_52, 53: col_53, 54: col_54, 55: col_55, 56: col_56, 58: col_58,
    59: col_59, 61: col_61, 62: col_62, 63: col_63, 64: col_64, 65: col_65, 66: col_66, 67: col_67, 68: col_68,
    69: col_69, 70: col_70, 71: col_71, 72: col_72, 73: col_73, 74: col_74, 75: col_75,
}

# black dashes: start row of each, all the same length, in two columns
dash_columns = [21, 57]
dash_starts = [-2, 37, 76, 116, 155, 194, 233, 272, 311, 350, 389, 428, 467, 507, 546, 585, 624, 663, 702, 742, 781]
dash_length = 20

arrow_columns = [38, 39]

species_legend = [
    "Anthoceros angustus", "Marchantia polymorpha", "Physcomitrella patens", "Selaginella moellendorffii",
    "Ginkgo biloba", "Gnetum montanum", "Amborella trichopoda", "Oryza sativa", "Setaria italic", "Zea mays",
    "Arabidopsis thaliana", "Medicago truncatula", "Glycine max",
]
species_legend_colors = ["#0A4F9C", "#4F2072", "#04625E", "#172B78", "#99A4B7", "#B8DCF2", "#A9BBA0", "#A27878",
                         "#E8D0DA", "#D6C48C", "#ECAE44", "#B96442", "#AC1F24"]
residue_legend = ["VALFI", "STQ", "KR", "DE", "HY", "P", "G", "C"]
residue_legend_colors = ["#7CA8DA", "#46AE3A", "#D8351F", "#A0529A", "#22A9A8", "#C4C414", "#DC904C", "#D87678"]


def column_cells(runs):
    # numbers between two codes are read as start/end pairs, a lone trailing number is dropped
    cells = [None] * N_ROWS
    value = None
    pending = None
    for item in runs:
        if isinstance(item, str):
            value = residue_codes.index(item) if item in residue_codes else None
            pending = None
        elif pending is None:
            pending = item
        else:
            for row in range(max(pending, 0), min(item, N_ROWS)):
                cells[row] = value
            pending = None
    return cells


def stepped_scale(colors):
    n = len(colors)
    scale = []
    for i, color in enumerate(colors):
        scale += [[i / n, color], [(i + 1) / n, color]]
    return scale


# px helpers, the figure has no margins so these are just the page position
def px_x(x):
    return x / FIG_W


def px_y(y):
    return 1 - y / FIG_H


grid = [[None] * N_COLS for _ in range(N_ROWS)]
for col, runs in columns.items():
    for row, cell in enumerate(column_cells(runs)):
        grid[row][col] = cell

rows_y = np.arange(N_ROWS) + 0.5

fig = go.Figure()
fig.add_heatmap(
    z=grid, x=np.arange(N_COLS) + 0.5, y=rows_y, zmin=-0.5, zmax=7.5, colorscale=stepped_scale(residue_colors),
    showscale=False, hoverongaps=False,
)

# species strip is its own heatmap on a second x axis
species_keys = list(species_colors)
strip_rows = [[None] for _ in range(N_ROWS)]
last = 0
for letter, end in strip_runs:
    for row in range(last, min(end, N_ROWS)):
        strip_rows[row] = [species_keys.index(letter)]
    last = max(last, end)
fig.add_heatmap(
    z=strip_rows, x=[0.5], y=rows_y, zmin=-0.5, zmax=len(species_keys) - 0.5,
    colorscale=stepped_scale(list(species_colors.values())), showscale=False, xaxis="x2", yaxis="y",
)

for col in dash_columns:
    xs, ys = [], []
    for start in dash_starts:
        xs += [col + 0.5, col + 0.5, None]
        ys += [start, start + dash_length, None]
    fig.add_scatter(x=xs, y=ys, mode="lines", line=dict(color="black", width=3), showlegend=False, cliponaxis=False)

for col in arrow_columns:
    fig.add_annotation(
        x=col + 0.5, y=0, ax=col + 0.5, ay=-16, xref="x", yref="y", axref="x", ayref="y", text="", showarrow=True,
        arrowhead=2, arrowsize=0.8, arrowwidth=3, arrowcolor="#F01010",
    )

# species legend
species_box_top = [1274, 1310, 1345, 1380, 1414, 1448, 1482, 1515, 1551, 1588, 1623, 1657, 1692]
species_text_y = [1287, 1323, 1358, 1392, 1427, 1460, 1494, 1530, 1565, 1598, 1634, 1667, 1704]
species_text_x = [1080, 1079, 1081, 1081, 1083, 1080, 1079, 1080, 1076, 1089, 1076, 1079, 1084]
for name, color, top, text_y, text_x in zip(species_legend, species_legend_colors, species_box_top, species_text_y, species_text_x):
    fig.add_shape(type="rect", xref="paper", yref="paper", x0=px_x(1046), x1=px_x(1071), y0=px_y(top), y1=px_y(top + 25),
                  fillcolor=color, line_width=0)
    fig.add_annotation(
        xref="paper", yref="paper", x=px_x(text_x), y=px_y(text_y), text=f"<b><i>{name}</i></b>", showarrow=False,
        xanchor="left", yanchor="middle", font=dict(family="Liberation Serif", size=31, color="black"),
    )

# residue legend: two columns
residue_box = [(1048, 1749), (1048, 1795), (1049, 1849), (1051, 1901), (1240, 1760), (1240, 1810), (1240, 1858), (1241, 1900)]
residue_text = [(1091, 1763), (1091, 1808), (1092, 1862), (1092, 1914), (1281, 1773), (1281, 1825), (1278, 1871), (1279, 1912)]
for name, color, (bx, by), (tx, ty) in zip(residue_legend, residue_legend_colors, residue_box, residue_text):
    fig.add_shape(type="rect", xref="paper", yref="paper", x0=px_x(bx), x1=px_x(bx + 29), y0=px_y(by), y1=px_y(by + 28),
                  fillcolor=color, line_width=0)
    fig.add_annotation(
        xref="paper", yref="paper", x=px_x(tx), y=px_y(ty), text=name, showarrow=False, xanchor="left",
        yanchor="middle", font=dict(family="Liberation Serif", size=30, color="#111111"),
    )

axis_off = dict(showgrid=False, zeroline=False, showticklabels=False, ticks="", showline=False)
fig.update_layout(
    width=FIG_W, height=FIG_H, margin=dict(l=0, r=0, t=0, b=0), paper_bgcolor="white", plot_bgcolor="white",
    showlegend=False,
    xaxis=dict(domain=[px_x(134.3), px_x(1028.1)], range=[0, N_COLS], anchor="y", **axis_off),
    xaxis2=dict(domain=[px_x(2), px_x(115)], range=[0, 1], anchor="y", **axis_off),
    yaxis=dict(domain=[px_y(1932), px_y(39.3)], range=[N_ROWS, 0], anchor="x", **axis_off),
)

fig.write_html("out.html", config={"displayModeBar": False}, post_script="document.body.style.margin='0';")
